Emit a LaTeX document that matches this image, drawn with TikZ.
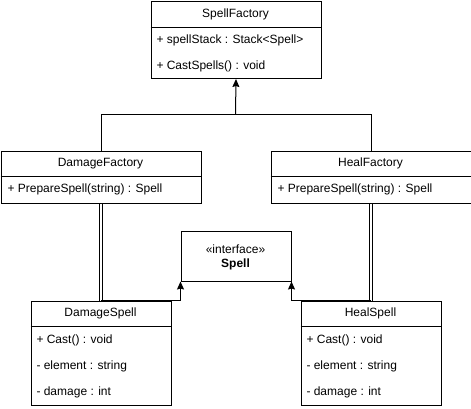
\documentclass[tikz,border=0pt]{standalone}
\usepackage{fontspec}
\setmainfont{Liberation Sans}
\usetikzlibrary{arrows.meta}
\begin{document}
\begin{tikzpicture}[x=1pt,y=-1pt,line width=1pt,
  font=\fontsize{12}{14}\selectfont,
  box/.style={draw,rectangle,inner sep=0pt,anchor=north west},
  fld/.style={anchor=west,inner sep=0pt},
  gen/.style={-{Stealth[length=8pt,width=7pt,inset=1pt]}},
  dbl/.style={double,double distance=2.3pt,line width=0.9pt}]
\useasboundingbox (0,0) rectangle (471,408);
% SpellFactory
\node[box,minimum width=170pt,minimum height=77pt] (sf) at (150.5,1) {};
\draw (150.5,27) -- (320.5,27);
\node (sft) at (235.5,14) {SpellFactory};
\node[fld] (sf1) at (156,40) {+ spellStack : Stack<Spell>};
\node[fld] (sf2) at (156,66) {+ CastSpells() : void};
% DamageFactory
\node[box,minimum width=200pt,minimum height=52pt] (df) at (0.5,150.5) {};
\draw (0.5,176.5) -- (200.5,176.5);
\node (dft) at (100.5,163.5) {DamageFactory};
\node[fld] (df1) at (7,189.5) {+ PrepareSpell(string) : Spell};
% HealFactory
\node[box,minimum width=200pt,minimum height=52pt] (hf) at (270.5,150.5) {};
\draw (270.5,176.5) -- (470.5,176.5);
\node (hft) at (370.5,163.5) {HealFactory};
\node[fld] (hf1) at (277,189.5) {+ PrepareSpell(string) : Spell};
% Interface
\node[box,minimum width=110pt,minimum height=50pt] (sp) at (180.5,230.5) {};
\node (spa) at (235.5,249) {«interface»};
\node (spb) at (235.5,264) {\bfseries Spell};
% DamageSpell
\node[box,minimum width=140pt,minimum height=104pt] (ds) at (30.5,300.5) {};
\draw (30.5,326.5) -- (170.5,326.5);
\node (dst) at (100.5,313.5) {DamageSpell};
\node[fld] (ds1) at (36,340) {+ Cast() : void};
\node[fld] (ds2) at (36,366) {- element : string};
\node[fld] (ds3) at (36,392) {- damage : int};
% HealSpell
\node[box,minimum width=140pt,minimum height=104pt] (hs) at (300.5,300.5) {};
\draw (300.5,326.5) -- (440.5,326.5);
\node (hst) at (370.5,313.5) {HealSpell};
\node[fld] (hs1) at (306,340) {+ Cast() : void};
\node[fld] (hs2) at (306,366) {- element : string};
\node[fld] (hs3) at (306,392) {- damage : int};
% connectors
\coordinate (j) at (235.5,114.5);
\draw[gen] (j) -- (sf.south);
\draw (df.north) -- (df.north |- j) -- (hf.north |- j) -- (hf.north);
\draw[dbl] (df.south) -- (ds.north);
\draw[dbl] (hf.south) -- (hs.north);
\draw[gen] (ds.north) -- (ds.north -| sp.south west) -- (sp.south west);
\draw[gen] (hs.north) -- (hs.north -| sp.south east) -- (sp.south east);
\end{tikzpicture}
\end{document}
